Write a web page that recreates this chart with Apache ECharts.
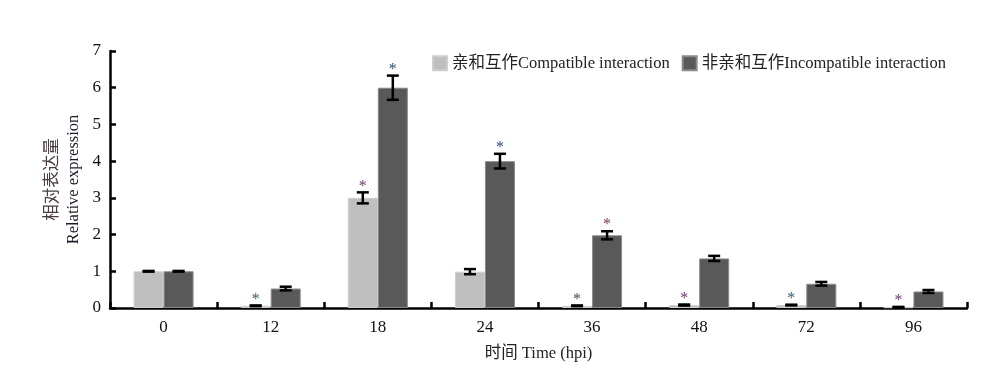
<!DOCTYPE html>
<html>
<head>
<meta charset="utf-8">
<script src="https://cdn.jsdelivr.net/npm/echarts@6/dist/echarts.min.js"></script>
<style>html,body{margin:0;padding:0;background:#fff;}#c{width:1000px;height:388px;}</style>
</head>
<body>
<div id="c"></div>
<script>
var categories = ['0', '12', '18', '24', '36', '48', '72', '96'];
var compatName = '亲和互作Compatible interaction';
var incompatName = '非亲和互作Incompatible interaction';
var compatValues = [1.0, 0.06, 3.0, 0.99, 0.06, 0.08, 0.08, 0.02];
var compatErrors = [0.01, 0.01, 0.15, 0.07, 0.01, 0.015, 0.01, 0.01];
var incompatValues = [1.0, 0.53, 6.0, 4.0, 1.98, 1.35, 0.66, 0.45];
var incompatErrors = [0.01, 0.05, 0.33, 0.2, 0.11, 0.07, 0.05, 0.04];
var compatSig = [0, 1, 1, 0, 1, 1, 1, 1];
var incompatSig = [0, 0, 1, 1, 1, 0, 0, 0];
var compatSigColors = ['', '#2e6070', '#6a3a6a', '', '#3c4a5a', '#6a3a6a', '#2e6070', '#6a3a6a'];
var incompatSigColors = ['', '', '#2e5060', '#2e4a7a', '#7a3a4a', '', '', ''];
var yTicks = [0, 1, 2, 3, 4, 5, 6, 7];

var FONT = '"Liberation Serif", "Times New Roman", "Noto Sans CJK SC", serif';
var BAR_W = 30;

function errSeries(values, errors, sig, sigColors, offset) {
  var data = values.map(function (v, i) { return [i, v, errors[i], sig[i]]; });
  return {
    type: 'custom',
    silent: true,
    z: 5,
    data: data,
    renderItem: function (params, api) {
      var i = api.value(0), v = api.value(1), e = api.value(2), s = api.value(3);
      var c = api.coord([i, v]);
      var x = c[0] + offset;
      var top = api.coord([i, v + e])[1];
      var bot = api.coord([i, Math.max(v - e, 0)])[1];
      var hw = 6;
      var style = { stroke: '#000', lineWidth: 2.5 };
      var children = [
        { type: 'line', shape: { x1: x, y1: top, x2: x, y2: bot }, style: style },
        { type: 'line', shape: { x1: x - hw, y1: top, x2: x + hw, y2: top }, style: style },
        { type: 'line', shape: { x1: x - hw, y1: bot, x2: x + hw, y2: bot }, style: style }
      ];
      if (s) {
        children.push({
          type: 'text',
          style: {
            text: '*', x: x, y: top + 2,
            align: 'center', verticalAlign: 'bottom',
            fill: sigColors[i], font: '16px ' + FONT
          }
        });
      }
      return { type: 'group', children: children };
    }
  };
}

var chart = echarts.init(document.getElementById('c'), null, { renderer: 'canvas' });
chart.setOption({
  animation: false,
  backgroundColor: '#fff',
  textStyle: { fontFamily: FONT },
  legend: {
    left: 427, top: 50,
    itemWidth: 14, itemHeight: 14, itemGap: 12,
    icon: 'rect',
    textStyle: { fontFamily: FONT, fontSize: 16.5, color: '#222' },
    data: [compatName, incompatName]
  },
  grid: { left: 110, right: 33, top: 51, bottom: 80, containLabel: false },
  xAxis: {
    type: 'category',
    data: categories,
    name: '时间 Time (hpi)',
    nameLocation: 'middle',
    nameGap: 37,
    nameTextStyle: { fontFamily: FONT, fontSize: 16.5, color: '#222' },
    axisLine: { lineStyle: { color: '#000', width: 2.5 } },
    axisTick: { show: true, inside: true, length: 6, lineStyle: { color: '#000', width: 2.5 }, alignWithLabel: false },
    axisLabel: { fontFamily: FONT, fontSize: 17, color: '#111', margin: 11 }
  },
  yAxis: {
    type: 'value',
    min: 0, max: 7, interval: 1,
    name: '{a|相对表达量}\n{b|Relative expression}',
    nameLocation: 'middle',
    nameRotate: 90,
    nameGap: 26,
    nameTextStyle: {
      rich: {
        a: { fontFamily: FONT, fontSize: 16.5, color: '#4a3c3c', lineHeight: 21 },
        b: { fontFamily: FONT, fontSize: 16.5, color: '#1a1a2a', lineHeight: 21 }
      }
    },
    splitLine: { show: false },
    axisLine: { show: true, lineStyle: { color: '#000', width: 2.5 } },
    axisTick: { show: true, inside: true, length: 6, lineStyle: { color: '#000', width: 2.5 } },
    axisLabel: {
      fontFamily: FONT, fontSize: 17, color: '#111', margin: 9,
      formatter: function (v) { return yTicks.indexOf(v) >= 0 ? String(v) : ''; }
    }
  },
  series: [
    {
      name: compatName, type: 'bar', data: compatValues,
      barWidth: BAR_W, barGap: '0%',
      itemStyle: { color: '#bfbfbf', borderColor: '#cfcfcf', borderWidth: 1 }
    },
    {
      name: incompatName, type: 'bar', data: incompatValues,
      barWidth: BAR_W, barGap: '0%',
      itemStyle: { color: '#595959', borderColor: '#8a8a8a', borderWidth: 1 }
    },
    errSeries(compatValues, compatErrors, compatSig, compatSigColors, -BAR_W / 2),
    errSeries(incompatValues, incompatErrors, incompatSig, incompatSigColors, BAR_W / 2)
  ]
});
</script>
</body>
</html>
